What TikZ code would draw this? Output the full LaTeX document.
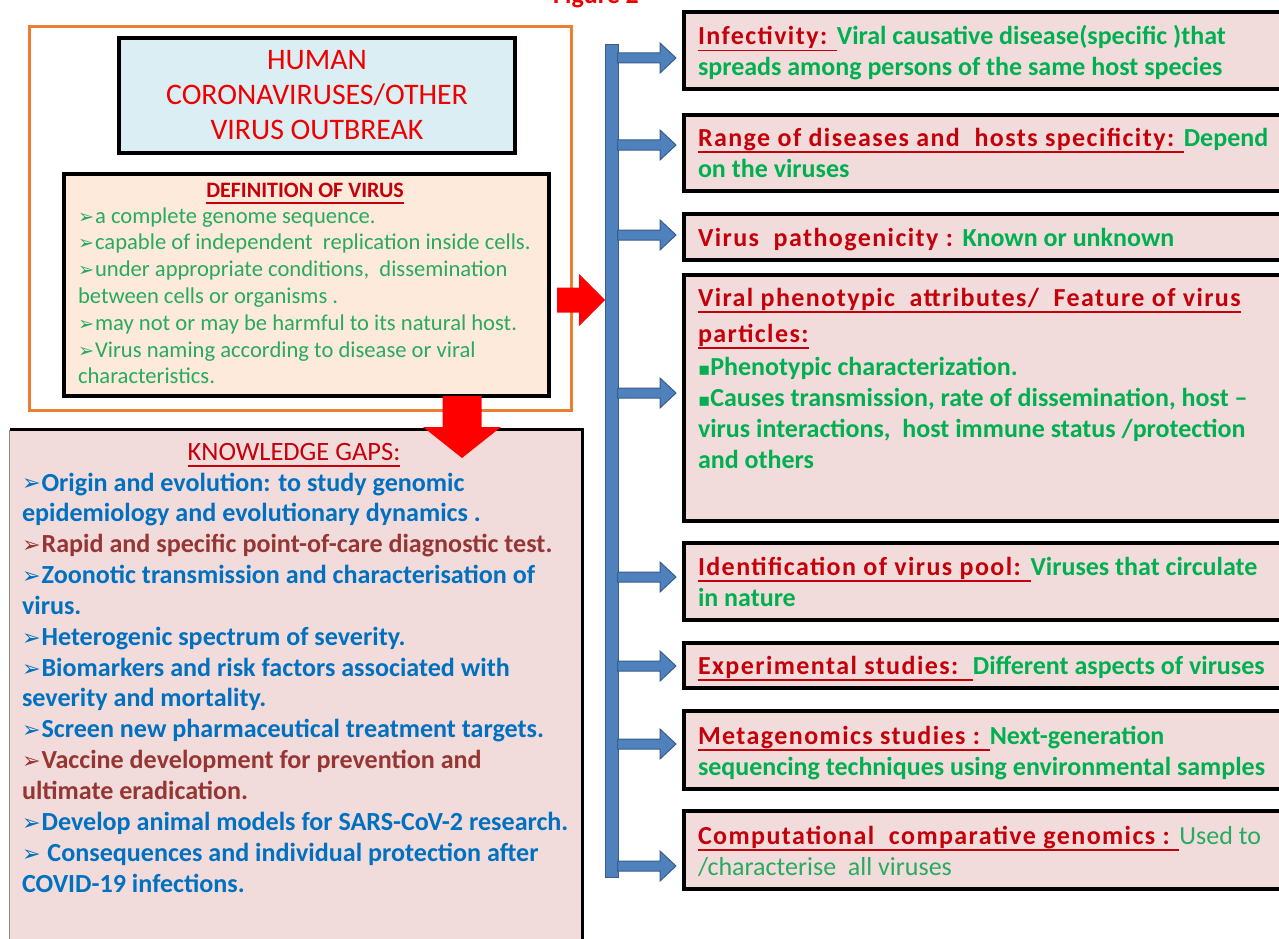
\documentclass[tikz,border=0pt]{standalone}
\usepackage{graphicx}
\usepackage{fontspec}
\setmainfont{Carlito}
\newfontfamily\hfont[LetterSpace=5.5]{Carlito}
\newfontfamily\dvs{DejaVu Sans}
\usetikzlibrary{calc}
\definecolor{orangeb}{RGB}{237,125,49}
\definecolor{titlefill}{RGB}{219,238,244}
\definecolor{deffill}{RGB}{253,234,218}
\definecolor{pinkfill}{RGB}{242,220,219}
\definecolor{hred}{RGB}{196,0,10}
\definecolor{tred}{RGB}{238,0,0}
\definecolor{hgreen}{RGB}{0,176,80}
\definecolor{dgreen}{RGB}{40,170,95}
\definecolor{kblue}{RGB}{0,112,192}
\definecolor{kbrown}{RGB}{150,54,52}
\definecolor{barfill}{RGB}{79,129,189}
\definecolor{barline}{RGB}{56,93,138}
\definecolor{arrred}{RGB}{255,0,0}
\newcommand\ulx[1]{\leavevmode\setbox0\hbox{#1}\rlap{\rule[-6.5pt]{\wd0}{1.8pt}}\box0}
\newcommand\hd[1]{{\hfont\color{hred}#1}}
\newcommand\bul{{\dvs\scalebox{0.85}{➢}}\hspace{1pt}}
\newcommand\sqb{{\dvs\scalebox{0.7}{▪}}}
\newcommand\fs{\rule{0pt}{0.9em}}
\tikzset{
  panel/.style={draw=black, line width=4pt, inner sep=0pt, outer sep=0pt, anchor=north west},
  rbox/.style={panel, fill=pinkfill, minimum width=620pt},
  txt/.style={inner sep=0pt, outer sep=0pt, anchor=north west, align=left},
  rtxt/.style={txt, font=\fontsize{26}{31}\selectfont\bfseries},
  brarrow/.style={fill=barfill, draw=barline, line width=1pt},
  redarrow/.style={fill=arrred},
}
\begin{document}
\begin{tikzpicture}[x=1pt,y=-1pt]
\useasboundingbox (0,0) rectangle (1279,939);
\fill[white] (0,0) rectangle (1279,939);
% title fragment
\node[inner sep=0pt, anchor=base west, font=\fontsize{26}{26}\selectfont\bfseries, text=tred] (fig) at (553,4) {Figure 2};
% left group
\node[panel, draw=orangeb, line width=3pt, minimum width=542pt, minimum height=384pt] (outer) at (29.5,26.5) {};
\node[panel, fill=titlefill, minimum width=396pt, minimum height=115pt] (title) at (119,38) {};
\node[panel, fill=deffill, minimum width=485pt, minimum height=222pt] (def) at (64,174) {};
\node[panel, draw=none, fill=pinkfill, minimum width=573pt, minimum height=540pt] (kg) at (9.5,429.5) {};
\draw[line width=3pt] (kg.south east) -- (kg.north east) -- (kg.north west);
\draw[line width=0.8pt, black!45] (kg.north west) -- (kg.south west);
% bar and branch arrows
\node[draw=barline, fill=barfill, line width=1pt, inner sep=0pt, outer sep=0pt, minimum width=13pt, minimum height=832pt, anchor=north west] (bar) at (605,45) {};
\node[rbox, minimum height=77pt] (r1) at (684,12) {};
\node[rbox, minimum height=76pt] (r2) at (684,115) {};
\node[rbox, minimum height=46pt] (r3) at (684,214) {};
\node[rbox, minimum height=246pt] (r4) at (684,275) {};
\node[rbox, minimum height=77pt] (r5) at (684,543) {};
\node[rbox, minimum height=45pt] (r6) at (684,643) {};
\node[rbox, minimum height=78pt] (r7) at (684,711) {};
\node[rbox, minimum height=78pt] (r8) at (684,811) {};
\foreach \n/\y in {r1/58, r2/145, r3/235, r4/393, r5/577, r6/666, r7/744, r8/866} {
  \draw[brarrow] ($(\n.west |- 0,\y)+(-8,0)$) coordinate (t) -- ++(-16,-15) -- ++(0,10)
    -- ($(bar.east |- t)+(-0.5,-5)$) -- ++(0,10) -- ($(t)+(-16,5)$) -- ++(0,10) -- cycle;
}
% red block arrows
\fill[redarrow] (bar.west |- 0,300) coordinate (rt) -- ++(-26,-26) -- ++(0,13.5) -- ++(-22,0)
  -- ++(0,25) -- ++(22,0) -- ++(0,13.5) -- cycle;
\fill[redarrow] ($(def.south east)+(-87,62)$) coordinate (dt) -- ++(-39,-31) -- ++(19.5,0)
  -- ++(0,-31) -- ++(39,0) -- ++(0,31) -- ++(19.5,0) -- cycle;
% left texts
\node[txt, anchor=north, align=center, text=tred, font=\fontsize{29.8}{35}\selectfont] (ttl) at (317,42.2)
  {\fs HUMAN\\CORONAVIRUSES/OTHER\\VIRUS OUTBREAK};
\node[txt, anchor=north, text=hred, font=\fontsize{22}{24}\selectfont\bfseries] (defh) at (305,177.2)
  {\fs\ulx{DEFINITION OF VIRUS}};
\node[txt, text=dgreen, font=\fontsize{22.6}{26.8}\selectfont] (deft) at (78,202.7)
  {\fs\bul a complete genome sequence.\\
   \bul capable of independent\ \ replication inside cells.\\
   \bul under appropriate conditions,\ \ dissemination\\
   between cells or organisms .\\
   \bul may not or may be harmful to its natural host.\\
   \bul Virus naming according to disease or viral\\
   characteristics.};
\node[txt, anchor=north, text=hred, font=\fontsize{26.5}{30}\selectfont] (kgh) at (294,436.2)
  {\fs\ulx{KNOWLEDGE GAPS:}};
\node[txt, text=kblue, font=\fontsize{26.1}{30.85}\selectfont\bfseries] (kgt) at (22,467.5)
  {\fs\bul Origin and evolution: to study genomic\\
   epidemiology and evolutionary dynamics .\\
   \textcolor{kbrown}{\bul Rapid and specific point-of-care diagnostic test.}\\
   \bul Zoonotic transmission and characterisation of\\
   virus.\\
   \bul Heterogenic spectrum of severity.\\
   \bul Biomarkers and risk factors associated with\\
   severity and mortality.\\
   \bul Screen new pharmaceutical treatment targets.\\
   \textcolor{kbrown}{\bul Vaccine development for prevention and}\\
   \textcolor{kbrown}{ultimate eradication.}\\
   \bul Develop animal models for SARS-CoV-2 research.\\
   \bul\ Consequences and individual protection after\\
   COVID-19 infections.};
% right texts
\node[rtxt, text=hgreen] (t1) at (698,21.6)
  {\fs\hd{\ulx{Infectivity: }}Viral causative disease(specific )that\\
   spreads among persons of the same host species};
\node[rtxt, text=hgreen] (t2) at (698,122.6)
  {\fs\hd{\ulx{Range of diseases and\ \ hosts specificity: }}Depend\\
   on the viruses};
\node[rtxt, text=hgreen] (t3) at (698,222.6)
  {\fs\hd{Virus\ \ pathogenicity\ : }Known or unknown};
\node[rtxt, text=hgreen] (t4) at (698,282.6)
  {\fs\hd{\ulx{Viral phenotypic\ \ attributes/\ \ Feature of virus}}\\[5pt]
   \hd{\ulx{particles:}}\\[2pt]
   \sqb Phenotypic characterization.\\
   \sqb Causes transmission, rate of dissemination, host --\\
   virus interactions,\ \ host immune status /protection\\
   and others};
\node[rtxt, text=hgreen] (t5) at (698,551.6)
  {\fs\hd{\ulx{Identification of virus pool: }}Viruses that circulate\\
   in nature};
\node[rtxt, text=hgreen] (t6) at (698,650.6)
  {\fs\hd{\ulx{Experimental studies:\ \ }}Different aspects of viruses};
\node[rtxt, text=hgreen] (t7) at (698,720.6)
  {\fs\hd{\ulx{Metagenomics studies : }}Next-generation\\
   sequencing techniques using environmental samples};
\node[rtxt, text=dgreen] (t8) at (698,820.6)
  {\fs\hd{\ulx{Computational\ \ comparative genomics : }}{\mdseries Used to}\\
   {\mdseries /characterise\ \ all viruses}};
\end{tikzpicture}
\end{document}
